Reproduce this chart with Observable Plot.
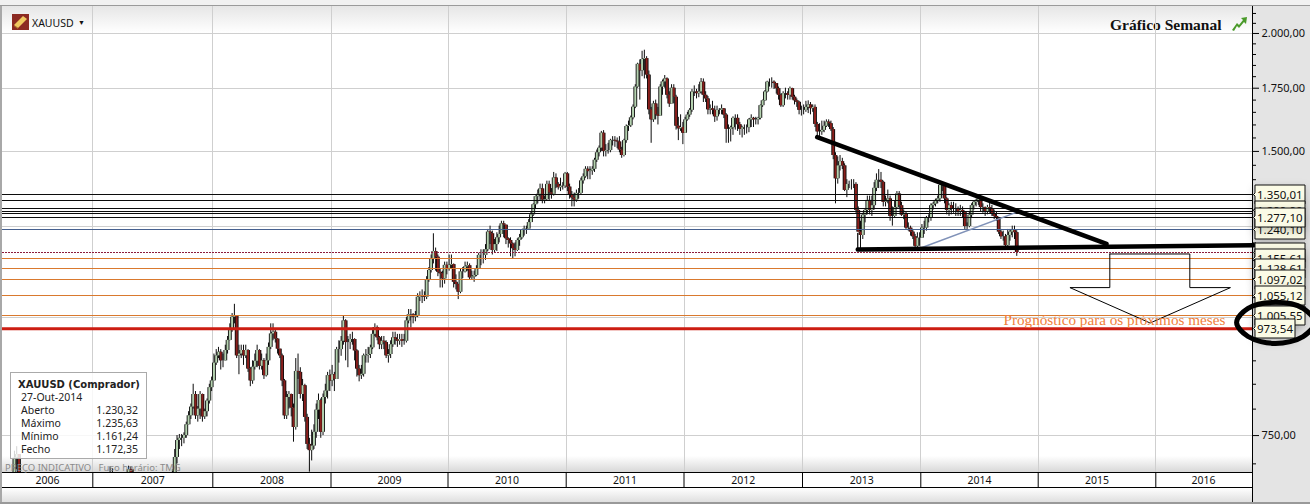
<!DOCTYPE html>
<html><head><meta charset="utf-8">
<script src="https://cdn.jsdelivr.net/npm/d3@7"></script>
<script src="https://cdn.jsdelivr.net/npm/@observablehq/plot@0.6"></script>
<style>
html,body{margin:0;padding:0;background:#fff;}
#chart{position:relative;width:1310px;height:504px;overflow:hidden;font-family:"Noto Sans",sans-serif;}
#chart>svg{position:absolute;left:0;top:0;}
.bg{position:absolute;}
#info{position:absolute;left:10px;top:372px;width:135px;height:85px;border:1px solid #aaa;background:rgba(255,255,255,.82);font-size:10.5px;line-height:13px;color:#222;}
#info b{position:absolute;left:7px;top:5px;font-family:"DejaVu Sans";font-size:10px;font-weight:bold;}
#info span{position:absolute;}
</style></head><body>
<div id="chart">
  <div class="bg" style="left:0;top:0;width:1310px;height:5px;background:#f1f1f1"></div>
  <div class="bg" style="left:0;top:5px;width:1310px;height:1px;background:#9a9a9a"></div>
  <div class="bg" style="left:2px;top:6px;width:1250px;height:27px;background:linear-gradient(#e6e6e6,#fff)"></div>
  <div class="bg" style="left:0;top:6px;width:2px;height:498px;background:#a8a8a8"></div>
  <div class="bg" style="left:2px;top:456px;width:1250px;height:16px;background:linear-gradient(#fff,#d8d8d8)"></div>
  <div class="bg" style="left:2px;top:472px;width:1250px;height:15px;background:#fff;border-top:1px solid #000;border-bottom:1px solid #000;box-sizing:border-box;height:16px"></div>
  <div class="bg" style="left:2px;top:488px;width:1250px;height:15px;background:linear-gradient(#fff,#ddd)"></div>
  <div class="bg" style="left:1252px;top:6px;width:58px;height:498px;background:#e4e4e4;border-left:1px solid #000;box-sizing:border-box"></div>
  <div class="bg" style="left:0;top:502px;width:1310px;height:2px;background:#999"></div>
  <svg class="bg" style="left:12px;top:14px;width:17px;height:16px;position:absolute" viewBox="0 0 17 16"><rect width="17" height="16" fill="#8c2a22"/><path d="M2 11 L11 2 L15 5 L6 14 Z" fill="#f0c860"/><path d="M2 11 L6 14 L6 15 L2 12 Z" fill="#b08030"/></svg>
  <div class="bg" style="left:32px;top:16px;font-size:10.5px;color:#111">XAUUSD</div>
  <div class="bg" style="left:78px;top:18px;font-size:7px;color:#111">▼</div>
  <div class="bg" style="left:1110px;top:16px;font-family:'Liberation Serif';font-weight:bold;font-size:15.5px;color:#111">Gráfico Semanal</div>
  <svg class="bg" style="left:1232px;top:17px;width:15px;height:14px;position:absolute" viewBox="0 0 15 14"><path d="M0 13 L5 6 L7 8 L11 3 L9 1 L15 0 L14 7 L12 5 L7 11 L5 9 L2 14 Z" fill="#4a9a2a"/></svg>
  <div class="bg" style="left:5px;top:461px;font-size:9.5px;color:#8a8a8a;z-index:3;white-space:pre">PREÇO INDICATIVO   Fuso horário: TMG</div>
  <div id="info" style="z-index:2">
    <b>XAUUSD (Comprador)</b>
    <span style="left:10px;top:18px">27-Out-2014</span>
    <span style="left:10px;top:31px">Aberto</span><span style="right:8px;top:31px">1.230,32</span>
    <span style="left:10px;top:44px">Máximo</span><span style="right:8px;top:44px">1.235,63</span>
    <span style="left:10px;top:57px">Mínimo</span><span style="right:8px;top:57px">1.161,24</span>
    <span style="left:10px;top:70px">Fecho</span><span style="right:8px;top:70px">1.172,35</span>
  </div>
</div>
<script>
// ---- weekly candles (close, high, low) ----
const start2006 = 12;
const close2006 = [585,595,600,618,650,710,716,680,655,645,630,620,615];
const high2006  = [590,600,610,625,660,722,730,705,680,660,650,640,630];
const low2006   = [575,580,590,595,615,650,690,670,640,625,610,600,590];

const close2007 = [630,628,650,650,655,665,660,672,685,645,650,655,665,665,678,690,685,678,665,655,660,660,650,655,650,650,655,665,665,670,665,660,665,668,675,711,741,745,745,750,770,787,804,829,787,800,829,785,795,816,843,857];
const high2007  = [640,640,655,660,660,670,670,695,692,670,660,665,670,670,683,696,695,690,680,668,668,672,660,660,660,655,660,670,680,680,680,672,670,672,690,725,750,752,752,755,775,795,810,850,835,805,835,830,800,820,850,865];
const low2007   = [620,620,625,640,645,650,650,660,665,635,640,640,650,650,660,675,670,665,650,645,645,645,640,640,640,640,640,650,655,655,655,650,645,655,660,690,700,725,730,735,745,770,780,800,780,775,780,775,780,785,810,835];

const close2008 = [895,911,919,900,900,923,946,969,1001,1005,911,915,923,911,923,882,857,886,899,923,888,900,868,900,930,961,965,949,926,911,857,787,823,829,802,765,877,875,829,847,784,734,723,731,756,798,817,756,823,836,868,857];
const high2008  = [915,925,930,925,915,935,955,985,1010,1033,1005,935,935,935,935,925,885,900,915,935,925,915,905,915,940,985,985,970,950,925,915,860,835,835,830,810,905,915,885,860,850,790,745,760,770,810,830,820,830,850,875,880];
const low2008   = [880,890,905,880,885,900,915,945,965,985,905,870,905,890,905,875,845,850,880,885,880,880,860,865,890,925,945,940,915,905,845,780,780,800,785,738,760,860,820,815,775,725,686,705,725,745,780,745,750,810,820,835];

const close2009 = [870,860,925,925,944,992,941,941,948,948,922,882,868,871,911,912,914,929,960,976,952,936,944,941,911,914,936,952,948,944,948,944,944,992,1007,1007,1001,1005,1051,1053,1054,1051,1095,1122,1154,1175,1159,1117,1113,1099,1136,1125];
const high2009  = [890,875,930,945,955,1005,995,955,960,965,950,925,890,890,915,925,930,935,975,985,980,955,955,955,945,925,945,965,965,960,960,960,960,1000,1020,1020,1010,1015,1060,1065,1070,1065,1105,1130,1165,1227,1185,1165,1125,1120,1145,1145];
const low2009   = [845,835,860,895,910,935,900,885,925,935,900,865,855,860,865,895,895,905,925,955,945,925,925,925,905,895,905,930,935,930,935,930,935,940,985,975,985,990,1000,1040,1035,1040,1045,1090,1115,1140,1120,1105,1075,1075,1085,1110];

const close2010 = [1136,1138,1090,1084,1064,1118,1118,1132,1135,1102,1104,1108,1127,1164,1164,1164,1180,1232,1227,1178,1195,1215,1225,1257,1253,1212,1207,1197,1183,1178,1207,1215,1237,1241,1241,1261,1285,1317,1343,1351,1369,1332,1334,1384,1356,1351,1406,1384,1373,1378,1378,1420];
const high2010  = [1165,1165,1140,1110,1085,1125,1130,1145,1145,1140,1120,1120,1135,1170,1180,1180,1195,1240,1250,1235,1210,1230,1250,1265,1265,1240,1215,1215,1200,1200,1212,1225,1240,1250,1250,1270,1295,1320,1345,1365,1385,1385,1345,1395,1395,1370,1425,1420,1390,1405,1390,1425];
const low2010   = [1120,1125,1075,1070,1045,1060,1100,1115,1120,1095,1095,1090,1105,1125,1135,1140,1150,1175,1195,1165,1170,1175,1200,1230,1215,1195,1185,1160,1155,1160,1175,1190,1210,1220,1225,1245,1265,1280,1305,1320,1330,1320,1320,1330,1330,1335,1345,1370,1365,1360,1365,1370];

const close2011 = [1375,1348,1339,1332,1354,1354,1396,1410,1436,1428,1430,1436,1468,1495,1512,1568,1500,1503,1503,1540,1541,1538,1535,1505,1485,1540,1594,1597,1628,1671,1755,1855,1826,1877,1881,1807,1660,1620,1684,1640,1635,1755,1777,1790,1720,1684,1750,1712,1595,1585,1590,1568];
const high2011  = [1425,1385,1360,1355,1365,1370,1405,1420,1445,1445,1445,1445,1475,1505,1520,1575,1578,1525,1530,1545,1555,1555,1550,1555,1515,1545,1600,1615,1635,1680,1765,1860,1875,1915,1920,1890,1825,1670,1695,1700,1670,1765,1785,1805,1795,1735,1765,1765,1720,1630,1640,1610];
const low2011   = [1360,1335,1310,1310,1325,1335,1350,1385,1405,1400,1400,1415,1425,1460,1480,1500,1480,1480,1490,1495,1520,1515,1510,1495,1475,1480,1530,1575,1590,1620,1665,1750,1700,1800,1790,1790,1640,1530,1610,1620,1600,1640,1720,1750,1705,1670,1685,1685,1580,1540,1575,1525];

const close2012 = [1620,1639,1658,1734,1734,1727,1734,1776,1720,1705,1660,1664,1658,1632,1658,1658,1664,1639,1583,1583,1589,1626,1626,1601,1583,1589,1589,1589,1620,1626,1620,1620,1626,1677,1697,1734,1776,1776,1776,1770,1748,1720,1677,1727,1727,1720,1748,1712,1697,1691,1658,1658];
const high2012  = [1630,1650,1665,1745,1760,1745,1765,1792,1790,1735,1715,1680,1695,1675,1675,1665,1680,1665,1645,1600,1595,1632,1640,1640,1610,1595,1600,1600,1625,1640,1630,1630,1630,1680,1700,1740,1780,1790,1795,1782,1770,1755,1725,1735,1750,1735,1755,1750,1720,1705,1695,1675];
const low2012   = [1600,1615,1630,1650,1715,1705,1710,1725,1690,1690,1640,1640,1640,1610,1615,1640,1640,1625,1530,1530,1535,1560,1580,1575,1560,1550,1560,1565,1570,1590,1590,1600,1600,1620,1670,1695,1730,1755,1750,1745,1725,1700,1670,1670,1705,1700,1700,1700,1680,1670,1640,1635];

const close2013 = [1658,1670,1680,1665,1670,1602,1573,1573,1579,1595,1611,1605,1582,1485,1403,1448,1463,1448,1364,1384,1384,1384,1384,1299,1232,1222,1284,1299,1331,1299,1314,1371,1398,1398,1391,1325,1331,1336,1280,1280,1308,1352,1314,1284,1289,1244,1244,1232,1218,1190,1214,1214];
const high2013  = [1680,1695,1697,1690,1680,1680,1610,1605,1615,1615,1620,1620,1615,1590,1495,1480,1485,1475,1455,1400,1395,1400,1400,1390,1310,1265,1290,1305,1345,1345,1345,1390,1420,1435,1425,1395,1345,1365,1345,1310,1330,1360,1360,1325,1300,1295,1260,1250,1240,1225,1230,1230];
const low2013   = [1640,1650,1645,1640,1650,1590,1555,1555,1560,1570,1590,1590,1575,1470,1320,1385,1430,1435,1360,1340,1370,1365,1370,1290,1270,1180,1210,1260,1285,1285,1280,1300,1360,1370,1370,1310,1310,1320,1265,1250,1275,1305,1305,1280,1270,1240,1235,1220,1210,1180,1185,1190];

const close2014 = [1244,1244,1275,1275,1314,1319,1331,1336,1381,1381,1336,1299,1314,1304,1304,1304,1293,1299,1293,1249,1249,1284,1314,1325,1331,1336,1308,1308,1293,1308,1304,1289,1280,1275,1232,1218,1218,1192,1222,1232,1237,1230.32,1172.35];
const high2014  = [1255,1265,1280,1285,1320,1325,1335,1345,1390,1392,1385,1340,1320,1325,1325,1320,1310,1315,1310,1295,1260,1295,1320,1330,1335,1345,1345,1320,1310,1315,1325,1315,1300,1295,1275,1240,1235,1225,1240,1240,1250,1250,1235.63];
const low2014   = [1215,1225,1235,1260,1265,1300,1310,1320,1325,1360,1320,1285,1280,1285,1290,1280,1280,1280,1275,1240,1240,1245,1275,1300,1310,1315,1295,1290,1280,1285,1290,1280,1270,1265,1225,1210,1205,1185,1185,1205,1215,1210,1161.24];

// ---- levels, axis values, annotations ----
const blackLevels  = [1350.01,1330,1306,1296,1289,1277.10];
const blueLevels   = [1240.10];
const dottedLevels = [1172.35];
const orangeLevels = [1155.61,1128.61,1097.02,1055.12,1005.55];
const redLevels    = [973.54];
const tagValues    = [1350.01,1299.90,1240.10,1277.10,1172.35,1155.61,1128.61,1097.02,1055.12,1005.55,973.54];

const gridPrices   = [2000,1750,1500,1250,1000,750];
const labelPrices  = [2000,1750,1500,750];
const minorPrices  = [2100,2050,1950,1900,1850,1800,1700,1650,1600,1550,1450,1400,1350,1300,1200,1150,1100,1050,950,900,850,800,700];
const yearStarts   = [2007,2008,2009,2010,2011,2012,2013,2014,2015,2016];
const yearLabels   = [2006.616,2007.5,2008.5,2009.5,2010.5,2011.5,2012.5,2013.5,2014.5,2015.5,2016.404];

const fallingLine  = [[2013.124,1553],[2015.581,1197]];
const supportLine  = [[2013.467,1181],[2016.828,1193]];
const supportStem  = [[2013.467,1228],[2013.467,1178]];
const blueDiagonal = [[2013.983,1183],[2014.858,1299]];
const arrowShape   = [[2015.609,1168],[2015.609,1076],[2015.27,1076],[2015.952,987],[2016.632,1076],[2016.288,1076],[2016.288,1168],[2015.609,1168]];
const ovalShape    = [[2017.345,988],[2017.247,1023],[2017.014,1038],[2016.781,1023],[2016.684,988],[2016.781,955],[2017.014,939],[2017.247,955]];
const forecastNote = [{x:2014.704,y:993,text:"Prognóstico para os próximos meses"}];

// ---- build the table Plot draws from ----
const yearTable = [
  [2006,start2006,close2006,high2006,low2006],
  [2007,0,close2007,high2007,low2007],[2008,0,close2008,high2008,low2008],
  [2009,0,close2009,high2009,low2009],[2010,0,close2010,high2010,low2010],
  [2011,0,close2011,high2011,low2011],[2012,0,close2012,high2012,low2012],
  [2013,0,close2013,high2013,low2013],[2014,0,close2014,high2014,low2014]
];
const candles = [];
let prev = null;
for (const [yr,st,c,h,l] of yearTable) {
  c.forEach((v,i)=>{
    const open = prev===null ? v : prev;
    candles.push({x:yr+(st+i+.5)/52, open, close:v, high:h[i], low:l[i], up:v>=open});
    prev = v;
  });
}

const loc = d3.formatLocale({decimal:",",thousands:".",grouping:[3],currency:["",""]});
const price = loc.format(",.2f");
const pts = a => a.map(([x,y])=>({x,y}));
const crisp = {shapeRendering:"crispEdges"};

const chart = Plot.plot({
  width:1310,height:504,marginLeft:2,marginRight:58,marginTop:6,marginBottom:32,
  style:{background:"transparent",fontFamily:"Noto Sans",fontSize:"11px",color:"#111",overflow:"visible"},
  x:{type:"linear",
     domain:[2006,2007,2008,2009,2010,2011,2012,2013,2014,2015,2016,2017],
     range:[-25.8,92.3,212.3,330.5,447.5,565.7,683.5,802,920.3,1037.7,1155.3,1273.4]},
  y:{type:"log",domain:[685.4,2136],range:[472,6]},
  marks:[
    Plot.ruleX(yearStarts,{x:d=>d,stroke:"#cfcfcf",strokeWidth:1,...crisp}),
    Plot.ruleY(gridPrices,{y:d=>d,stroke:"#cfcfcf",strokeWidth:1,...crisp}),

    Plot.ruleX(candles,{x:"x",y1:"low",y2:"high",stroke:"#0c0c0c",strokeWidth:1,clip:true}),
    Plot.ruleX(candles,{x:"x",y1:"open",y2:"close",stroke:"#0c0c0c",strokeWidth:3.8,clip:true}),
    Plot.ruleX(candles,{x:"x",y1:"open",y2:"close",stroke:d=>d.up?"#b5d2b0":"#8a1f1c",strokeWidth:2,clip:true}),

    Plot.ruleY(orangeLevels,{y:d=>d,stroke:"#d9792e",strokeWidth:1,...crisp}),
    Plot.ruleY(dottedLevels,{y:d=>d,stroke:"#8c1c3c",strokeWidth:1,strokeDasharray:"1.5,1.5",...crisp}),
    Plot.ruleY(blueLevels,{y:d=>d,stroke:"#46608f",strokeWidth:1,...crisp}),
    Plot.ruleY(blackLevels,{y:d=>d,stroke:"#0c0c0c",strokeWidth:1,...crisp}),
    Plot.ruleY(redLevels,{y:d=>d,stroke:"#cc1d12",strokeWidth:3}),

    Plot.line(pts(blueDiagonal),{x:"x",y:"y",stroke:"#8092b8",strokeWidth:1.4}),
    Plot.line(pts(supportStem),{x:"x",y:"y",stroke:"#000",strokeWidth:1.2}),
    Plot.line(pts(fallingLine),{x:"x",y:"y",stroke:"#000",strokeWidth:4.5}),
    Plot.line(pts(supportLine),{x:"x",y:"y",stroke:"#000",strokeWidth:4.5}),
    Plot.line(pts(arrowShape),{x:"x",y:"y",stroke:"#000",strokeWidth:1}),
    Plot.text(forecastNote,{x:"x",y:"y",text:"text",textAnchor:"start",fill:"#f0803a",fontFamily:"Liberation Serif",fontSize:15.2}),

    Plot.axisX({ticks:yearStarts,tickSize:15,fill:"none",stroke:"#000",label:null}),
    Plot.axisX({ticks:yearLabels,tickSize:0,tickPadding:4,tickFormat:d=>String(Math.floor(d)),label:null,fontSize:10.5}),
    Plot.axisY({ticks:minorPrices,anchor:"right",tickSize:3,fill:"none",label:null,stroke:"#000"}),
    Plot.axisY({ticks:labelPrices,anchor:"right",tickSize:6,tickPadding:3,tickFormat:price,label:null,stroke:"#000"}),

    Plot.tip(tagValues,{x:()=>2016.83,y:d=>d,title:d=>price(d),anchor:"left",pointerSize:3,textPadding:2,
      fill:"#fbfbe6",stroke:"#111",fontFamily:"Noto Sans",fontSize:11.5,lineHeight:1.05}),

    Plot.line(pts(ovalShape),{x:"x",y:"y",stroke:"#000",strokeWidth:5,curve:"catmull-rom-closed"})
  ]
});
document.getElementById("chart").appendChild(chart);
</script>
</body></html>
